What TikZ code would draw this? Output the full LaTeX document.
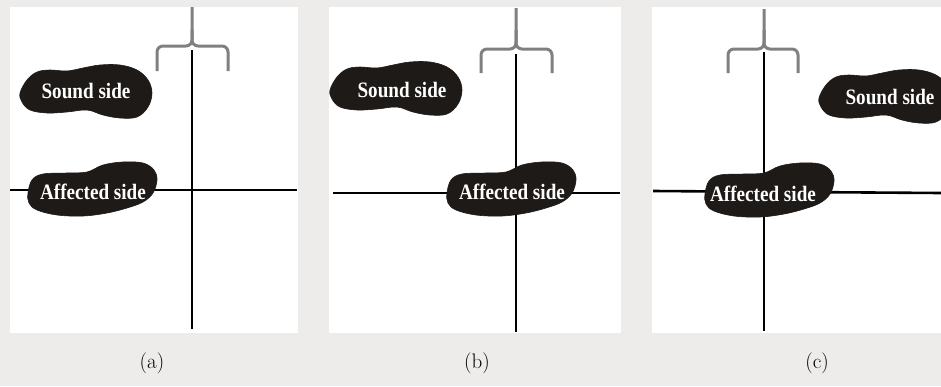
\documentclass[tikz,border=0pt]{standalone}
\usepackage{fontspec}
\usepackage{graphicx}
\newfontfamily\blobfont{Liberation Serif}

\definecolor{pagegray}{RGB}{237,236,234}
\definecolor{inkblack}{RGB}{30,26,24}
\definecolor{bracegray}{RGB}{128,128,128}

\tikzset{
  panel/.style={fill=white, draw=none},
  axis/.style={draw=black, line width=2.6pt},
  bracepath/.style={draw=bracegray, line width=3pt, rounded corners=6pt},
  blob/.style={fill=inkblack, draw=inkblack, line width=0.6pt},
  blobtext/.style={text=white, font=\blobfont\bfseries\fontsize{22}{26}\selectfont, inner sep=0pt},
  caption/.style={font=\fontsize{21}{25}\selectfont, anchor=base, inner sep=0pt}
}

% narrow white lettering on the footprints
\newcommand{\narrow}[1]{\scalebox{0.87}[1]{#1}}

% footprint outlines, in pixels relative to their upper-left corner
\newcommand{\soundshape}[2]{%
  \path[blob, shift={(#1,#2)}] plot[smooth cycle, tension=0.6] coordinates {
    (0,28) (7,15) (17,7) (30,5) (47,6) (63,3) (80,0) (100,0) (117,5) (128,15)
    (132,28) (128,42) (117,52) (100,53) (83,50) (67,45) (47,47) (27,48) (10,45) (2,37)};}
\newcommand{\affectedshape}[2]{%
  \path[blob, shift={(#1,#2)}] plot[smooth cycle, tension=0.6] coordinates {
    (0,31) (4,18) (15,12) (39,11) (59,10) (75,3) (95,0) (115,1) (126,8) (129,18)
    (125,31) (115,40) (99,46) (79,51) (55,54) (29,53) (9,48) (1,41)};}

\begin{document}
\begin{tikzpicture}[x=1pt, y=-1pt]
  \useasboundingbox (0,0) rectangle (941,386);
  \fill[pagegray] (0,0) rectangle (941,386);

  % ---------- panel (a) ----------
  \fill[panel] (10,7) rectangle (298,333);
  \coordinate (a-top) at (192,50);
  \coordinate (a-bot) at (192,329);
  \coordinate (a-left) at (10,190);
  \coordinate (a-right) at (297,190);
  \draw[axis] (a-top) -- (a-bot);
  \draw[axis] (a-left) -- (a-right);
  \draw[bracepath] (192,7) -- (192,46) -- (157,46) -- (157,71);
  \draw[bracepath] (192,30) -- (192,46) -- (228,46) -- (228,71);
  \soundshape{20}{65}
  \affectedshape{28}{162}
  \node[blobtext] (a-sound) at (86,91) {\narrow{Sound side}};
  \node[blobtext] (a-affected) at (93,192) {\narrow{Affected side}};
  \node[caption] (a-cap) at (152,368) {(a)};

  % ---------- panel (b) ----------
  \fill[panel] (329,7) rectangle (621,333);
  \coordinate (b-top) at (516,54);
  \coordinate (b-bot) at (516,332);
  \coordinate (b-left) at (333,193);
  \coordinate (b-right) at (620,193);
  \draw[axis] (b-top) -- (b-bot);
  \draw[axis] (b-left) -- (b-right);
  \draw[bracepath] (516,8) -- (516,49) -- (481,49) -- (481,73);
  \draw[bracepath] (516,30) -- (516,49) -- (552,49) -- (552,73);
  \soundshape{330}{62}
  \affectedshape{447}{162}
  \node[blobtext] (b-sound) at (402,90) {\narrow{Sound side}};
  \node[blobtext] (b-affected) at (512,192) {\narrow{Affected side}};
  \node[caption] (b-cap) at (477,368) {(b)};

  % ---------- panel (c) ----------
  \begin{scope}
    \clip (652,7) rectangle (941,333);
    \fill[panel] (652,7) rectangle (941,333);
    \coordinate (c-top) at (764,52);
    \coordinate (c-bot) at (764,331);
    \coordinate (c-left) at (653,191);
    \coordinate (c-right) at (941,193);
    \draw[axis] (c-top) -- (c-bot);
    \draw[axis] (c-left) -- (c-right);
    \draw[bracepath] (764,9) -- (764,49) -- (728,49) -- (728,73);
    \draw[bracepath] (764,30) -- (764,49) -- (798,49) -- (798,73);
    \soundshape{819}{70}
    \affectedshape{705}{163}
    \node[blobtext] (c-sound) at (890,97) {\narrow{Sound side}};
    \node[blobtext] (c-affected) at (763,194) {\narrow{Affected side}};
  \end{scope}
  \node[caption] (c-cap) at (817,368) {(c)};
\end{tikzpicture}
\end{document}
